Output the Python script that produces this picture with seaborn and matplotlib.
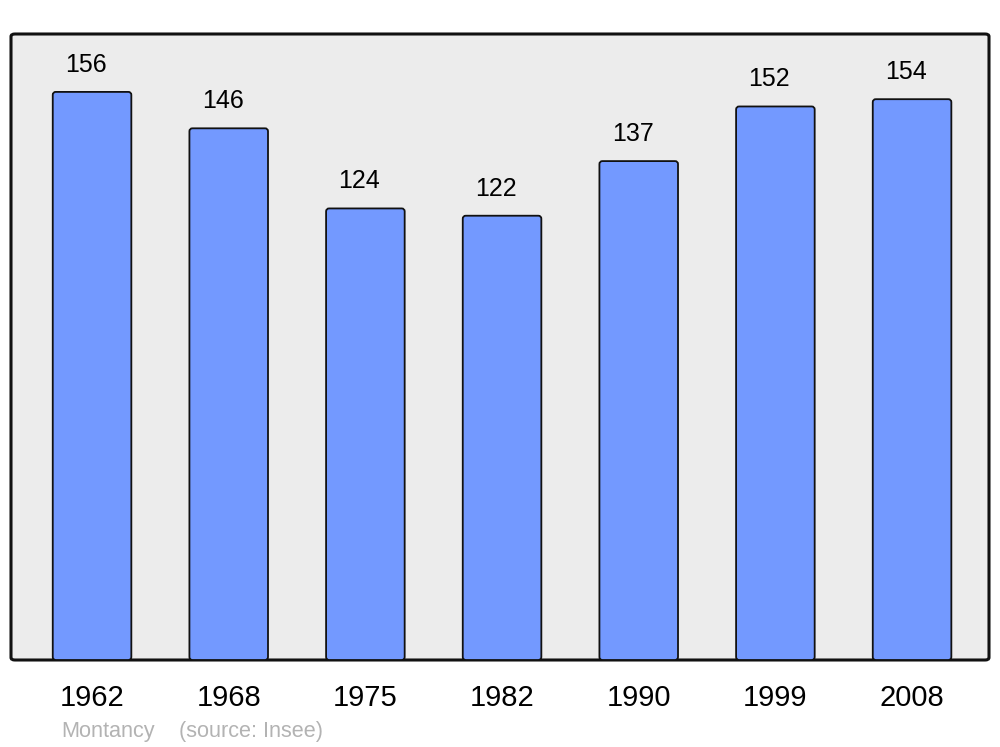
import matplotlib
matplotlib.use("Agg")
import matplotlib.pyplot as plt
import seaborn as sns
import pandas as pd
from matplotlib.patches import FancyBboxPatch

years = ["1962", "1968", "1975", "1982", "1990", "1999", "2008"]
population = [156, 146, 124, 122, 137, 152, 154]
footer_place = "Montancy"
footer_source = "(source: Insee)"

sns.set_theme(style="white")
plt.rcParams["font.family"] = ["Liberation Sans", "DejaVu Sans"]

df = pd.DataFrame({"year": years, "pop": population})

fig = plt.figure(figsize=(10, 7.47), dpi=100)
ax = fig.add_axes([0.011, 1 - 660 / 747, 0.978, (660 - 34) / 747])
ax.set_facecolor("none")

frame = FancyBboxPatch((0, 0), 1, 1, boxstyle="round,pad=0,rounding_size=0.004",
                       transform=ax.transAxes, facecolor="#ececec",
                       edgecolor="#111111", linewidth=2.2, zorder=0, clip_on=False)
ax.add_patch(frame)

sns.barplot(data=df, x="year", y="pop", color="#7399ff", saturation=1,
            edgecolor="#111111", linewidth=1.3, width=0.575, ax=ax, zorder=2)

ax.set_xlim(-0.593, 6.563)
ax.set_ylim(0, 171.9)

# round the bar corners slightly
for p in list(ax.patches):
    if p is frame:
        continue
    x0, y0 = p.get_x(), p.get_y()
    w, h = p.get_width(), p.get_height()
    rb = FancyBboxPatch((x0, y0), w, h, boxstyle="round,pad=0,rounding_size=0.022",
                        mutation_aspect=37.5, facecolor=p.get_facecolor(),
                        edgecolor=p.get_edgecolor(), linewidth=p.get_linewidth(),
                        zorder=2)
    p.set_visible(False)
    ax.add_patch(rb)

for i, v in enumerate(population):
    ax.annotate(str(v), (i, v), xytext=(-4.3, 19.5), textcoords="offset points",
                ha="center", va="center", fontsize=18, color="black")

for s in ax.spines.values():
    s.set_visible(False)
ax.set_yticks([])
ax.set_xlabel("")
ax.set_ylabel("")
ax.tick_params(axis="x", length=0, pad=17.5, labelsize=21, colors="black")

fig.text(0.061, 1 - 731 / 747, footer_place, fontsize=15.6, color="#b3b3b3",
         ha="left", va="center")
fig.text(0.179, 1 - 731 / 747, footer_source, fontsize=15.6, color="#b3b3b3",
         ha="left", va="center")

fig.savefig("out.png", dpi=100, facecolor="white")
